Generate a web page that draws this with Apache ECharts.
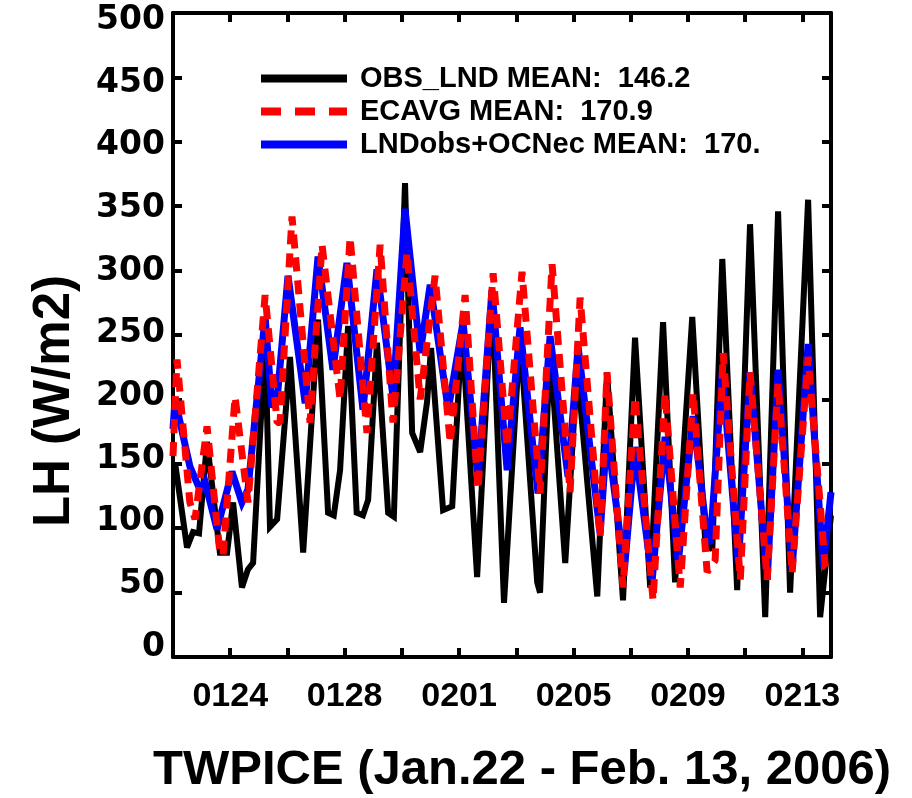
<!DOCTYPE html>
<html>
<head>
<meta charset="utf-8">
<title>TWPICE latent heat flux</title>
<script src="https://cdn.jsdelivr.net/npm/echarts@6/dist/echarts.min.js"></script>
<style>
  html, body { margin: 0; padding: 0; background: #fff; }
  #chart { width: 912px; height: 798px; }
</style>
</head>
<body>
<div id="chart"></div>
<script>
// Time is in days since 2006-01-22 00:00; values are latent heat flux in W/m2.

// Observed land latent heat flux
const obsLnd = [
  [0.07,151],[0.49,85],[0.70,97],[0.91,96],[1.19,167],[1.64,81],[1.89,81],[2.10,120],
  [2.41,54],[2.62,68],[2.80,73],[3.22,245],[3.39,101],[3.64,107],[4.09,233],[4.55,81],
  [5.07,262],[5.42,112],[5.62,110],[5.84,145],[6.12,257],[6.42,112],[6.64,110],[6.82,122],
  [7.13,244],[7.52,112],[7.72,109],[8.11,368],[8.36,174],[8.64,159],[8.88,198],[9.02,240],
  [9.44,114],[9.76,117],[10.10,255],[10.63,62],[11.15,285],[11.57,42],[12.13,250],[12.73,58],
  [12.83,50],[13.18,240],[13.71,73],[14.13,225],[14.83,47],[15.17,221],[15.73,44],[16.15,248],
  [16.68,54],[17.13,260],[17.55,58],[18.15,264],[18.60,91],[18.85,83],[19.20,309],[19.72,52],
  [20.17,336],[20.70,31],[21.15,346],[21.57,50],[22.20,355],[22.62,31],[23.0,110]
];

// ECMWF average
const ecavg = [
  [0,156],[0.14,231],[0.59,120],[0.77,107],[1.19,179],[1.64,81],[1.75,79],[2.17,202],
  [2.62,120],[3.22,281],[3.64,182],[3.74,182],[4.16,342],[4.79,182],[5.21,320],[5.84,200],
  [6.19,326],[6.78,174],[7.24,320],[7.69,182],[8.18,314],[8.64,200],[9.16,296],[9.69,166],
  [10.21,281],[10.66,130],[11.19,298],[11.68,163],[12.20,299],[12.83,127],[13.25,305],[13.88,128],
  [14.23,279],[14.93,93],[15.17,221],[15.73,54],[16.15,202],[16.78,44],[17.20,205],[17.73,54],
  [18.18,205],[18.67,66],[18.95,75],[19.23,236],[19.83,60],[20.17,221],[20.77,60],[21.15,213],
  [21.64,65],[22.20,233],[22.80,70],[23.0,65]
];

// Observed land combined with ECMWF ocean
const lndObsOcnEc = [
  [0,177],[0.07,200],[0.59,148],[0.94,130],[1.12,136],[1.54,99],[2.06,144],[2.41,120],
  [2.62,130],[3.22,264],[3.46,194],[3.64,200],[4.02,296],[4.62,197],[5.07,311],[5.59,223],
  [6.08,306],[6.64,192],[7.13,301],[7.69,202],[8.11,348],[8.64,236],[8.99,289],[9.62,192],
  [10.14,260],[10.66,138],[11.15,285],[11.68,145],[12.13,256],[12.76,127],[13.18,249],[13.81,140],
  [14.16,241],[14.93,96],[15.17,174],[15.78,68],[16.15,163],[16.75,60],[17.20,171],[17.66,73],
  [18.18,187],[18.67,93],[18.78,88],[19.20,221],[19.76,73],[20.17,221],[20.77,60],[21.15,223],
  [21.64,68],[22.20,243],[22.73,70],[23.0,128]
];

const seriesNames = [
  'OBS_LND MEAN:  146.2',
  'ECAVG MEAN:  170.9',
  'LNDobs+OCNec MEAN:  170.'
];

// Labelled x ticks (days since Jan 22) and their MMDD labels
const xTickDays = [2, 6, 10, 14, 18, 22];
const xTickLabels = ['0124', '0128', '0201', '0205', '0209', '0213'];

// Labelled y values
const yTickValues = [0, 50, 100, 150, 200, 250, 300, 350, 400, 450, 500];

const xTitle = 'TWPICE (Jan.22 - Feb. 13, 2006)';
const yTitle = 'LH (W/m2)';

const FONT = '"Liberation Sans", Arial, Helvetica, sans-serif';
const WIDE = '"DejaVu Sans", "Liberation Sans", sans-serif';

const chart = echarts.init(document.getElementById('chart'), null, { renderer: 'canvas' });

const frameLine = { show: true, onZero: false, lineStyle: { color: '#000', width: 4 } };
const innerTick = { show: true, inside: true, length: 9, lineStyle: { color: '#000', width: 4 } };

function xLabel(v) {
  const i = xTickDays.indexOf(Math.round(v * 1000) / 1000);
  return i >= 0 ? xTickLabels[i] : '';
}

chart.setOption({
  animation: false,
  backgroundColor: '#fff',
  grid: { left: 173, top: 13, width: 658, height: 644, containLabel: false },
  legend: {
    orient: 'vertical',
    left: 257,
    top: 64,
    padding: 0,
    itemWidth: 86,
    itemHeight: 20,
    itemGap: 4,
    selectedMode: false,
    data: [
      { name: seriesNames[0] },
      { name: seriesNames[1], lineStyle: { type: [20, 14] } },
      { name: seriesNames[2] }
    ],
    lineStyle: { width: 8 },
    itemStyle: { opacity: 0, borderWidth: 0 },
    textStyle: {
      fontFamily: FONT, fontWeight: 'bold', fontSize: 29, lineHeight: 29,
      color: '#000', padding: [0, 0, 0, 8]
    }
  },
  xAxis: [
    {
      type: 'value', position: 'bottom', min: 0, max: 23, interval: 2,
      axisLine: frameLine, axisTick: innerTick, splitLine: { show: false },
      axisLabel: {
        formatter: xLabel, margin: 23, color: '#000',
        fontFamily: FONT, fontWeight: 'bold', fontSize: 34
      }
    },
    {
      type: 'value', position: 'top', min: 0, max: 23, interval: 2,
      axisLine: frameLine, axisTick: innerTick, splitLine: { show: false },
      axisLabel: { show: false }
    }
  ],
  yAxis: [
    {
      type: 'value', position: 'left', min: 0, max: 500, interval: 50,
      axisLine: frameLine, axisTick: innerTick, splitLine: { show: false },
      axisLabel: { show: false }
    },
    {
      type: 'value', position: 'right', min: 0, max: 500, interval: 50,
      axisLine: frameLine, axisTick: innerTick, splitLine: { show: false },
      axisLabel: { show: false }
    },
    {
      // label-only axis: the value labels sit slightly inside the tick span
      type: 'value', position: 'left', min: -8, max: 506,
      axisLine: { show: false }, axisTick: { show: false }, splitLine: { show: false },
      axisLabel: {
        customValues: yTickValues, margin: 8, color: '#000',
        fontFamily: WIDE, fontWeight: 'bold', fontSize: 33
      }
    }
  ],
  graphic: [
    {
      type: 'text', x: 522, y: 770,
      style: {
        text: xTitle, fill: '#000', align: 'center', verticalAlign: 'middle',
        font: 'bold 49px ' + FONT
      }
    },
    {
      type: 'text', x: 55, y: 401, rotation: Math.PI / 2,
      style: {
        text: yTitle, fill: '#000', align: 'center', verticalAlign: 'middle',
        font: 'bold 51px ' + FONT
      }
    }
  ],
  series: [
    {
      name: seriesNames[0], type: 'line', data: obsLnd,
      symbol: 'none', showSymbol: false, z: 2,
      lineStyle: { color: '#000', width: 6, join: 'miter', miterLimit: 3 },
      itemStyle: { color: '#000' }
    },
    {
      name: seriesNames[2], type: 'line', data: lndObsOcnEc,
      symbol: 'none', showSymbol: false, z: 3,
      lineStyle: { color: '#0000ff', width: 7, join: 'miter', miterLimit: 3 },
      itemStyle: { color: '#0000ff' }
    },
    {
      name: seriesNames[1], type: 'line', data: ecavg,
      symbol: 'none', showSymbol: false, z: 4,
      lineStyle: { color: '#ff0000', width: 7, type: [14, 9] },
      itemStyle: { color: '#ff0000' }
    }
  ]
});
</script>
</body>
</html>
